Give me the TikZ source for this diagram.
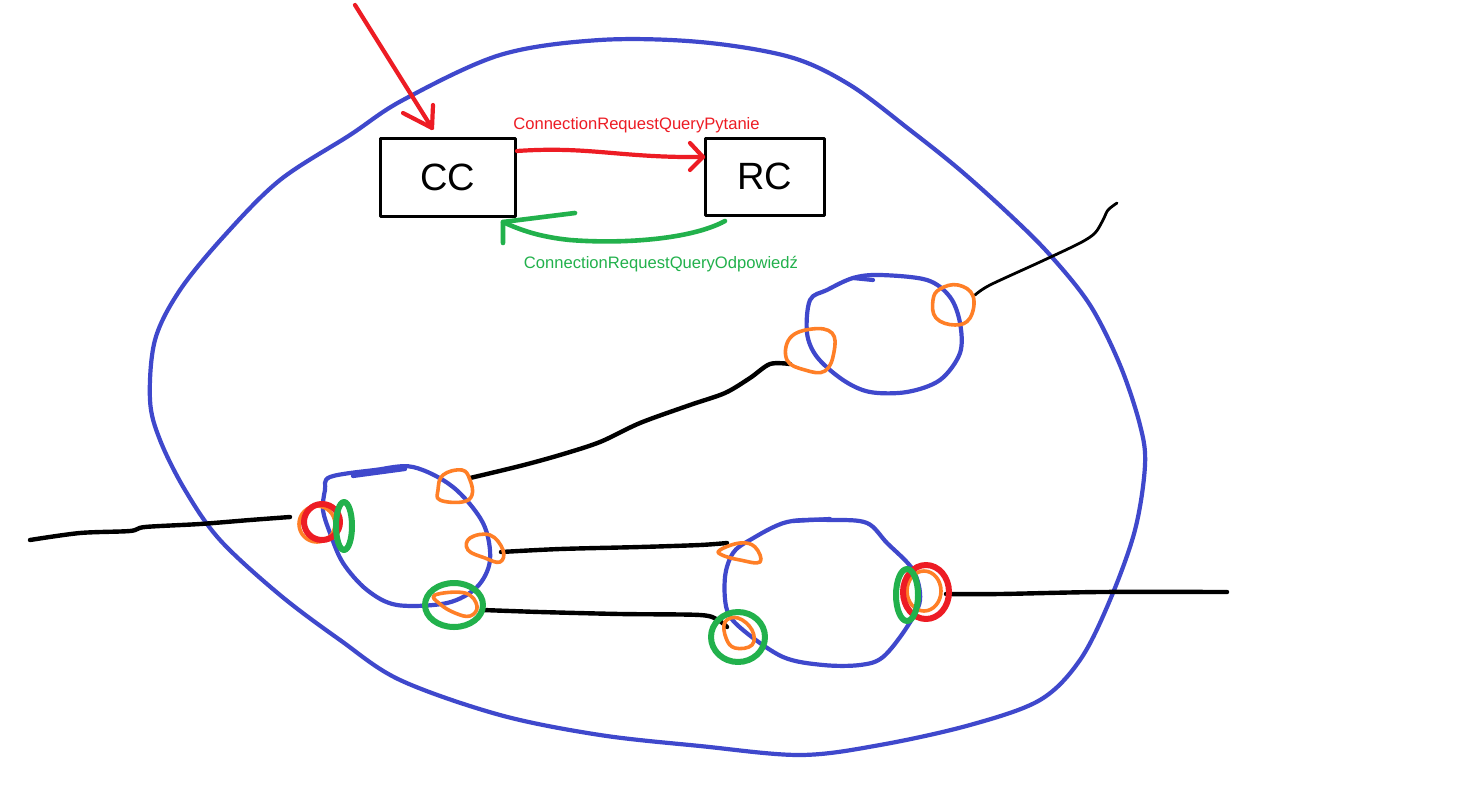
\documentclass[tikz,border=0pt]{standalone}
\usepackage{fontspec}
\setmainfont{Liberation Sans}
\usetikzlibrary{arrows.meta}
\definecolor{pblue}{RGB}{63,72,204}
\definecolor{pred}{RGB}{237,28,36}
\definecolor{pgreen}{RGB}{34,177,76}
\definecolor{porange}{RGB}{255,127,39}
\begin{document}
\begin{tikzpicture}[x=0.5pt,y=-0.5pt,line cap=round,line join=round,
  boxnode/.style={draw=black,line width=1.5pt,font=\fontsize{19}{20}\selectfont,inner sep=0pt},
  lbl/.style={font=\fontsize{8.3}{10}\selectfont,inner sep=0pt},
  bluel/.style={draw=pblue,line width=2.1pt},
  wire/.style={draw=black,line width=2.2pt},
  thinwire/.style={draw=black,line width=1.4pt},
  oring/.style={draw=porange,line width=1.8pt},
  rring/.style={draw=pred,line width=3pt},
  gring/.style={draw=pgreen,line width=3pt},
  redar/.style={draw=pred,line width=2.1pt},
  greenar/.style={draw=pgreen,line width=2.3pt}]
\useasboundingbox (0,0) rectangle (1465,797);
\fill[white] (0,0) rectangle (1465,797);

% outer domain
\draw[bluel] plot[smooth cycle,tension=0.55] coordinates {(403,100) (500,55) (600,40) (700,42) (790,57) (850,85) (910,130) (960,170) (1010,215) (1050,255) (1090,305) (1120,365) (1140,425) (1145,465) (1135,530) (1110,600) (1080,660) (1040,700) (970,725) (880,745) (800,755) (700,746) (600,735) (500,715) (400,680) (340,640) (280,595) (220,540) (185,490) (160,440) (150,400) (155,340) (180,290) (225,235) (280,180) (350,135)};

% subnetwork loops
\draw[bluel] plot[smooth cycle,tension=0.55] coordinates {(330,477) (375,470) (413,467) (453,487) (483,523) (490,560) (477,587) (447,603) (397,605) (367,590) (343,563) (330,533) (323,510) (325,490)};
\draw[bluel] plot[smooth cycle,tension=0.55] coordinates {(787,522) (833,520) (867,523) (887,543) (913,570) (920,600) (907,627) (883,657) (860,665) (823,665) (783,657) (743,630) (727,610) (725,577) (733,553) (750,540)};
\draw[bluel] plot[smooth cycle,tension=0.55] coordinates {(853,278) (880,275) (927,280) (950,297) (960,323) (960,353) (940,380) (907,392) (870,392) (843,380) (817,357) (807,333) (810,300) (827,290)};
\draw[bluel] (353,476) -- (405,469);
\draw[bluel] (793,521) -- (830,519);
\draw[bluel] (853,278) -- (873,280);

% boxes and labels
\node[boxnode,minimum width=67.5pt,minimum height=39pt] (cc) at (447.5,177) {CC};
\node[boxnode,minimum width=59.5pt,minimum height=38.5pt] (rc) at (764.5,176.5) {RC};
\node[lbl,text=pred] (qlab) at (636.5,125) {ConnectionRequestQueryPytanie};
\node[lbl,text=pgreen] (alab) at (661,264) {ConnectionRequestQueryOdpowiedź};

% arrows
\coordinate (inred) at (355,5);
\coordinate (intip) at (432,128);
\draw[redar] (inred) -- (intip);
\draw[redar] (403,113) -- (intip) -- (433,105);

\coordinate (qstart) at (517,151);
\coordinate (qtip) at (703,157);
\draw[redar] (qstart) .. controls (590,146) and (620,158) .. (qtip);
\draw[redar] (690,143) -- (qtip) -- (690,170);

\coordinate (astart) at (725,221);
\coordinate (atip) at (503,222);
\draw[greenar] (astart) .. controls (690,240) and (620,244) .. (570,240) .. controls (540,237) and (520,230) .. (atip);
\draw[greenar] (575,213) -- (atip) -- (503,243);

% black links
\draw[wire] plot[smooth,tension=0.5] coordinates {(30,540) (80,533) (130,531) (145,527) (200,524) (250,520) (290,517)};
\draw[wire] plot[smooth,tension=0.5] coordinates {(470,478) (520,466) (560,455) (600,442) (640,423) (690,405) (725,393) (750,378) (770,364) (790,364)};
\draw[wire] plot[smooth,tension=0.5] coordinates {(501,552) (560,549) (640,547) (700,545) (727,543)};
\draw[wire] plot[smooth,tension=0.5] coordinates {(483,610) (540,612) (620,614) (700,615) (718,620) (727,627)};
\draw[wire] plot[smooth,tension=0.5] coordinates {(946,594) (1000,594) (1100,592) (1227,592)};
\draw[thinwire] plot[smooth,tension=0.5] coordinates {(975,295) (990,285) (1040,262) (1080,243) (1095,233) (1103,220) (1108,210) (1117,203)};

% orange ports
\draw[oring] plot[smooth cycle,tension=0.7] coordinates {(443,475) (462,470) (470,480) (472,495) (462,502) (440,500) (438,490)};
\draw[oring] plot[smooth cycle,tension=0.7] coordinates {(470,538) (490,535) (503,550) (500,562) (485,558) (468,550)};
\draw[oring] plot[smooth cycle,tension=0.7] coordinates {(435,595) (465,593) (477,606) (470,616) (455,613) (440,604)};
\draw[oring] (317,524) circle[x radius=18,y radius=18];
\draw[oring] plot[smooth cycle,tension=0.7] coordinates {(720,550) (740,543) (755,547) (760,562) (740,560) (722,555)};
\draw[oring] plot[smooth cycle,tension=0.7] coordinates {(725,622) (738,618) (752,630) (752,645) (735,648) (726,638)};
\draw[oring] (924,591) circle[x radius=17,y radius=20];
\draw[oring] plot[smooth cycle,tension=0.7] coordinates {(790,338) (812,329) (832,333) (834,352) (825,371) (805,370) (787,360)};
\draw[oring] plot[smooth cycle,tension=0.7] coordinates {(940,289) (958,285) (973,296) (970,318) (955,325) (936,318) (933,300)};

% red and green rings
\draw[rring] (322,522) circle[x radius=18,y radius=18];
\draw[gring] (344,526) circle[x radius=8,y radius=24];
\draw[gring] (454,605) circle[x radius=29,y radius=22];
\draw[gring] (738,637) circle[x radius=27,y radius=25];
\draw[rring] (926,592) circle[x radius=23,y radius=27];
\draw[gring] (907,595) circle[x radius=11,y radius=26];
\end{tikzpicture}
\end{document}
